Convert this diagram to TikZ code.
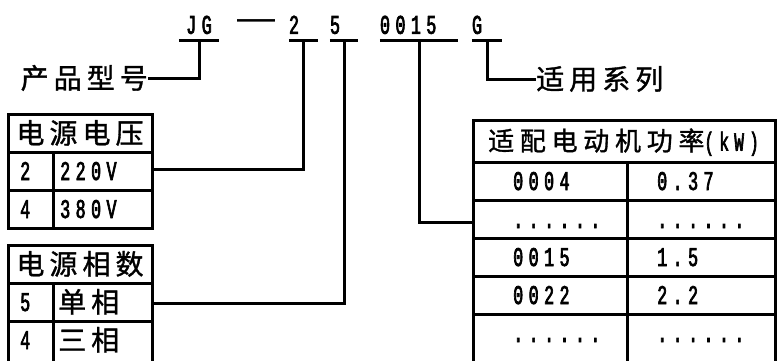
\documentclass[tikz,border=0pt]{standalone}
\usepackage{fontspec}
\newfontfamily\cjkfont[LetterSpace=18,FakeBold=1.2]{Noto Sans CJK SC}
\newfontfamily\pixfont[FakeStretch=0.62,LetterSpace=20,FakeBold=2.5]{Liberation Mono}
\newfontfamily\dashfont{Liberation Sans}
\tikzset{
  wire/.style={line width=3pt},
  grid/.style={line width=3pt},
  zh/.style={font=\cjkfont\fontsize{28}{28}\selectfont, inner sep=0pt, text height=23pt, text depth=2pt},
  zhhead/.style={font=\cjkfont\addfontfeature{LetterSpace=22}\fontsize{26}{26}\selectfont, inner sep=0pt, text height=21pt, text depth=2pt},
  num/.style={font=\pixfont\fontsize{27}{27}\selectfont, inner sep=0pt, text height=18pt, text depth=0pt},
  code/.style={num, anchor=south, minimum height=30pt, align=left},
}

\begin{document}
\begin{tikzpicture}[x=1pt, y=-1pt]
          \useasboundingbox (0,0) rectangle (777,360);
          % model code
          \node[code, text width=40pt, align=center] (jg) at (199,40) {JG};
          \node[font=\dashfont\fontsize{38}{38}\selectfont, inner sep=0pt, anchor=base] (dash) at (256,30) {—};
          \node[code, text width=29pt] (two) at (303.5,40) {2};
          \node[code, text width=28pt] (five) at (344,40) {5};
          \node[code, text width=78pt] (power) at (419,40) {0015};
          \node[code, text width=30pt] (series) at (487,40) {G};
          \draw[wire] (jg.south west) -- (jg.south east);
          \draw[wire] (two.south west) -- (two.south east);
          \draw[wire] (five.south west) -- (five.south east);
          \draw[wire] (power.south west) -- (power.south east);
          \draw[wire] (series.south west) -- (series.south east);
          %
          \node[zh, anchor=east] (model) at (148,78) {产品型号};
          \node[zh, anchor=west] (fit) at (536,79) {适用系列};
          % voltage table
          \draw[grid] (8,114) rectangle (152,228);
          \draw[grid] (8,152) -- (152,152);
          \draw[grid] (8,190) -- (152,190);
          \draw[grid] (53,152) -- (53,228);
          \node[zh] (volt) at (80,133) {电源电压};
          \node[num, anchor=west] (vA1) at (20,171) {2};
          \node[num, anchor=west] (vA2) at (60,171) {220V};
          \node[num, anchor=west] (vB1) at (20,209) {4};
          \node[num, anchor=west] (vB2) at (60,209) {380V};
          \coordinate (voltin) at (152,169);
          % phase table
          \draw[grid] (8,245) rectangle (152,372);
          \draw[grid] (8,283) -- (152,283);
          \draw[grid] (8,321) -- (152,321);
          \draw[grid] (53,283) -- (53,372);
          \node[zh] (phase) at (80,264) {电源相数};
          \node[num, anchor=west] (pA1) at (20,302) {5};
          \node[zh, anchor=west] (pA2) at (58,302) {单相};
          \node[num, anchor=west] (pB1) at (20,340) {4};
          \node[zh, anchor=west] (pB2) at (58,340) {三相};
          \coordinate (phasein) at (152,303);
          % motor power table
          \draw[grid] (473,120) rectangle (775,372);
          \draw[grid] (473,162) -- (775,162);
          \draw[grid] (473,200) -- (775,200);
          \draw[grid] (473,238) -- (775,238);
          \draw[grid] (473,276) -- (775,276);
          \draw[grid] (473,314) -- (775,314);
          \draw[grid] (627,162) -- (627,372);
          \node[zhhead, anchor=west] (kw) at (488,141) {适配电动机功率{\pixfont (kW)}};
          \node[num, anchor=west] (r1a) at (513,181) {0004};
          \node[num, anchor=west] (r1b) at (657,181) {0.37};
          \node[num, anchor=west] (r2a) at (513,219) {......};
          \node[num, anchor=west] (r2b) at (657,219) {......};
          \node[num, anchor=west] (r3a) at (513,257) {0015};
          \node[num, anchor=west] (r3b) at (657,257) {1.5};
          \node[num, anchor=west] (r4a) at (513,295) {0022};
          \node[num, anchor=west] (r4b) at (657,295) {2.2};
          \node[num, anchor=west] (r5a) at (513,333) {......};
          \node[num, anchor=west] (r5b) at (657,333) {......};
          \coordinate (kwin) at (473,222);
          % leaders
          \draw[wire] (jg.south) |- (model.east);
          \draw[wire] (two.south) |- (voltin);
          \draw[wire] (five.south) |- (phasein);
          \draw[wire] (power.south) |- (kwin);
          \draw[wire] (series.south) |- (fit.west);
        \end{tikzpicture}
\end{document}
